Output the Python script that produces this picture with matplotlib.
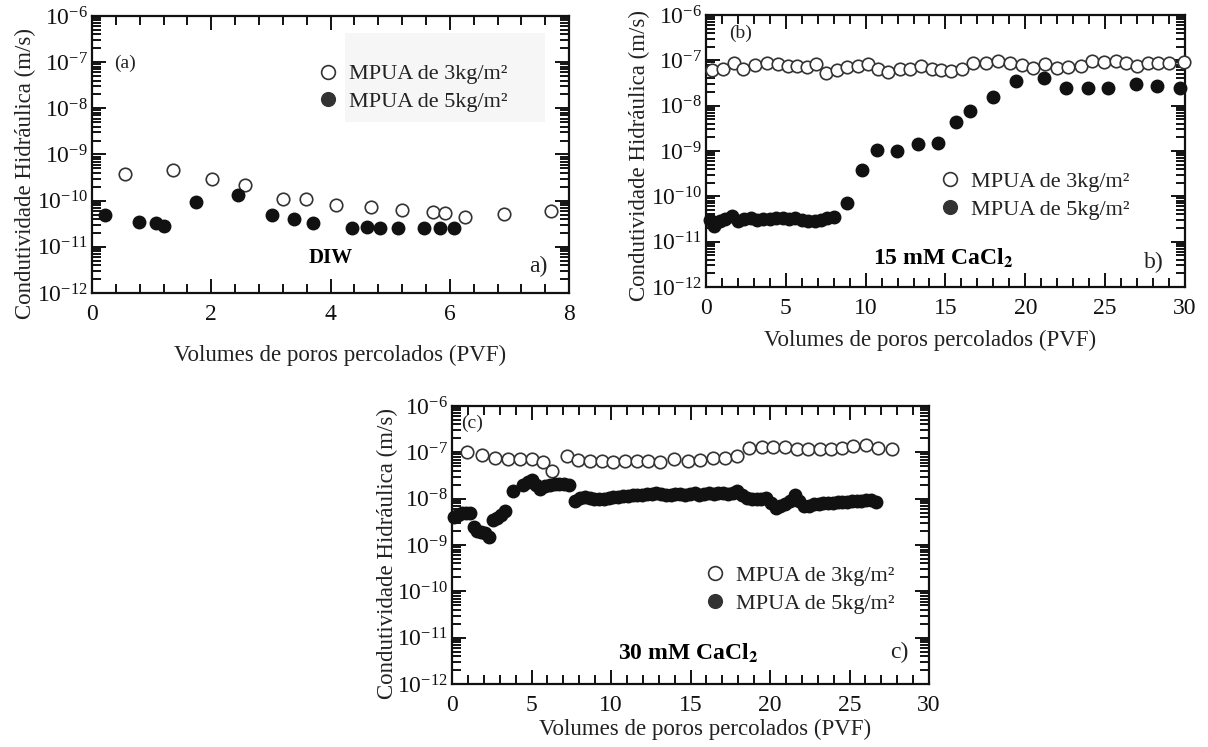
import numpy as np
import matplotlib.pyplot as plt
from matplotlib.ticker import (LogLocator, MultipleLocator, NullFormatter,
                               LogFormatterMathtext, FixedLocator)
from matplotlib.patches import Rectangle

plt.rcParams['font.family'] = ['Liberation Serif', 'DejaVu Serif']
plt.rcParams['mathtext.fontset'] = 'stix'

# ---- data (hydraulic conductivity, m/s) ----
# panel a: DIW
a_open_x = [0.55, 1.36, 2.01, 2.57, 3.21, 3.59, 4.09, 4.68, 5.20, 5.72, 5.92, 6.26, 6.91, 7.70]
a_open_y = [3.8e-10, 4.6e-10, 2.95e-10, 2.2e-10, 1.1e-10, 1.07e-10, 8.1e-11, 7.4e-11,
            6.3e-11, 5.6e-11, 5.3e-11, 4.5e-11, 5.1e-11, 6.0e-11]
a_fill_x = [0.22, 0.78, 1.08, 1.20, 1.74, 2.44, 3.02, 3.39, 3.71, 4.36, 4.61, 4.83, 5.13, 5.57, 5.84, 6.07]
a_fill_y = [4.9e-11, 3.5e-11, 3.3e-11, 2.8e-11, 9.2e-11, 1.33e-10, 4.9e-11, 4.1e-11, 3.2e-11,
            2.5e-11, 2.7e-11, 2.5e-11, 2.5e-11, 2.5e-11, 2.6e-11, 2.5e-11]

# panel b: 15 mM CaCl2
b_open_x = [0.36, 1.09, 1.75, 2.34, 3.07, 3.80, 4.53, 5.16, 5.68, 6.30, 6.89, 7.51, 8.18, 8.85,
            9.54, 10.16, 10.79, 11.42, 12.15, 12.77, 13.45, 14.15, 14.75, 15.35, 16.01, 16.74,
            17.53, 18.30, 19.04, 19.77, 20.50, 21.23, 21.96, 22.69, 23.52, 24.21, 24.92, 25.67,
            26.34, 27.01, 27.70, 28.32, 29.01, 29.95]
b_open_y_e8 = [6.1, 6.6, 8.6, 6.6, 7.9, 8.9, 8.2, 7.6, 7.5, 7.2, 8.3, 5.2, 6.1, 7.2,
               7.5, 8.2, 6.6, 5.6, 6.3, 6.6, 7.6, 6.6, 6.1, 5.8, 6.6, 8.6,
               8.9, 9.7, 8.9, 7.9, 6.9, 8.2, 6.9, 7.2, 7.5, 9.7, 9.4, 9.8,
               8.9, 7.5, 8.6, 8.9, 8.9, 9.0]
b_fill_x = [0.25, 0.5, 0.85, 1.2, 1.6, 2.0, 2.4, 2.8, 3.2, 3.6, 4.0, 4.4, 4.8, 5.2, 5.6, 6.0,
            6.4, 6.8, 7.2, 7.6, 8.0, 8.85, 9.75, 10.69, 11.98, 13.3, 14.55, 15.65, 16.53,
            17.99, 19.41, 21.16, 22.54, 23.94, 25.19, 26.93, 28.22, 29.72]
b_fill_y = [3.0e-11, 2.2e-11, 2.8e-11, 3.2e-11, 3.6e-11, 2.9e-11, 3.1e-11, 3.3e-11, 3.0e-11,
            3.1e-11, 3.2e-11, 3.3e-11, 3.3e-11, 3.2e-11, 3.3e-11, 3.0e-11, 2.9e-11, 2.9e-11,
            3.0e-11, 3.3e-11, 3.5e-11, 7.0e-11, 3.8e-10, 1.05e-9, 1.02e-9, 1.4e-9, 1.48e-9,
            4.4e-9, 7.7e-9, 1.53e-8, 3.5e-8, 4.0e-8, 2.4e-8, 2.5e-8, 2.5e-8, 3.0e-8, 2.7e-8, 2.5e-8]

# panel c: 30 mM CaCl2
c_open_x = [0.92, 1.87, 2.70, 3.54, 4.28, 5.01, 5.70, 6.27, 7.21, 7.95, 8.68, 9.41, 10.15,
            10.88, 11.62, 12.35, 13.08, 13.95, 14.86, 15.60, 16.43, 17.17, 17.94, 18.70,
            19.48, 20.21, 20.94, 21.68, 22.41, 23.14, 23.82, 24.51, 25.24, 26.04, 26.81, 27.65]
c_open_y_e8 = [10.3, 8.8, 7.4, 7.2, 7.2, 7.1, 6.3, 4.0, 8.3, 6.8, 6.5, 6.5, 6.1,
               6.6, 6.5, 6.5, 6.1, 7.3, 6.5, 6.8, 7.4, 7.4, 8.3, 12.2,
               13.2, 13.2, 12.8, 11.6, 11.6, 11.6, 11.6, 12.2, 13.7, 14.4, 12.2, 11.9]
c_fill_x = [0.1, 0.35, 0.6, 0.85, 1.1, 1.35, 1.6, 1.85, 2.1, 2.35, 2.6, 2.85, 3.1, 3.35,
            3.85, 4.45, 4.75, 5.0, 5.3, 5.55, 5.85, 6.15, 6.45, 6.75, 7.05, 7.35,
            7.75, 8.05, 8.35, 8.65, 8.95, 9.25, 9.55, 9.85, 10.15, 10.45, 10.75, 11.05,
            11.35, 11.65, 11.95, 12.25, 12.55, 12.85, 13.15, 13.45, 13.75, 14.05, 14.35,
            14.65, 14.95, 15.25, 15.55, 15.85, 16.15, 16.45, 16.75, 17.05, 17.35, 17.65,
            17.95, 18.25, 18.55, 18.85, 19.15, 19.45, 19.75, 20.05, 20.35, 20.65, 20.95,
            21.25, 21.55, 21.85, 22.15, 22.45, 22.75, 23.05, 23.35, 23.65, 23.95, 24.25,
            24.55, 24.85, 25.15, 25.45, 25.75, 26.05, 26.35, 26.65]
c_fill_y_e9 = [4.0, 4.4, 4.8, 5.0, 4.8, 2.4, 2.0, 1.9, 1.8, 1.5, 3.5, 3.9, 4.4, 5.3,
               15, 20, 23, 25, 20, 16, 19, 20, 21, 21, 21, 20,
               8.8, 10.5, 11, 10.5, 10, 9.8, 10, 10.5, 11, 11, 11.5, 11.5,
               12, 12, 12, 12.5, 12.5, 13, 12.5, 12, 12, 12.5, 12.5,
               12, 12.5, 13, 12, 12.5, 13, 12.5, 13, 13, 12.5, 13.5,
               15, 12, 10.5, 10, 10, 10, 10.5, 8, 6.2, 7, 7.5,
               9, 12, 9, 7, 7, 7.5, 7.5, 8, 8, 8, 8.5,
               8.5, 8.5, 8.8, 9, 9, 9.5, 9.5, 8.6]

lab3 = "MPUA de 3kg/m²"
lab5 = "MPUA de 5kg/m²"
ylab = "Condutividade Hidráulica (m/s)"
xlab = "Volumes de poros percolados (PVF)"

# minor log ticks 2..9 in every decade
y_minor = [m * 10.0 ** e for e in range(-12, -6) for m in range(2, 10)]

fig = plt.figure(figsize=(12.08, 7.47), dpi=100)
ax_a = fig.add_axes([0.0762, 0.6078, 0.3949, 0.3708])
ax_b = fig.add_axes([0.5844, 0.6158, 0.3965, 0.3641])
ax_c = fig.add_axes([0.3742, 0.0843, 0.3949, 0.3722])


def style(ax, xmax, xmaj, xmin):
    ax.set_yscale('log')
    ax.set_ylim(1e-12, 1e-6)
    ax.set_xlim(0, xmax)
    ax.xaxis.set_major_locator(MultipleLocator(xmaj))
    ax.xaxis.set_minor_locator(MultipleLocator(xmin))
    ax.yaxis.set_major_locator(LogLocator(base=10, numticks=10))
    ax.yaxis.set_major_formatter(LogFormatterMathtext())
    ax.yaxis.set_minor_locator(FixedLocator(y_minor))
    ax.yaxis.set_minor_formatter(NullFormatter())
    ax.tick_params(which='both', direction='in', top=True, right=True, width=1.4, colors='#111')
    ax.tick_params(which='major', length=10, labelsize=17)
    ax.tick_params(which='minor', length=6.5)
    ax.tick_params(axis='x', pad=8)
    ax.tick_params(axis='y', pad=3)
    for s in ax.spines.values():
        s.set_linewidth(1.6)
        s.set_color('#111')


def draw(ax, ox, oy, fx, fy):
    ax.plot(ox, oy, 'o', ms=9, mfc='white', mec='#333', mew=1.2, label=lab3, clip_on=False, zorder=3)
    ax.plot(fx, fy, 'o', ms=9, mfc='#111', mec='#111', mew=1.0, label=lab5, clip_on=False, zorder=3)


def labels(ax, xl, yl):
    ax.set_xlabel(xlab, fontsize=16.5, color='#222')
    ax.xaxis.set_label_coords(xl[0], xl[1])
    ax.xaxis.label.set_va('center')
    ax.set_ylabel(ylab, fontsize=16.5, color='#222')
    ax.yaxis.set_label_coords(yl[0], yl[1])
    ax.yaxis.label.set_va('center')


def legend(ax, x, y):
    leg = ax.legend(loc='center left', bbox_to_anchor=(x, y), frameon=False, fontsize=16,
                    handlelength=1.0, handletextpad=0.45, labelspacing=0.33,
                    borderpad=0, borderaxespad=0, markerscale=1.1)
    leg.legend_handles[1].set_markerfacecolor('#333')
    leg.legend_handles[1].set_markeredgecolor('#333')
    for t in leg.get_texts():
        t.set_color('#222')
    return leg


# panel a
style(ax_a, 8, 2, 0.4)
draw(ax_a, a_open_x, a_open_y, a_fill_x, a_fill_y)
labels(ax_a, (0.52, -0.224), (-0.140, 0.433))
ax_a.add_patch(Rectangle((0.530, 0.617), 0.42, 0.322, transform=ax_a.transAxes,
                         facecolor='#f6f6f6', edgecolor='none', zorder=0))
legend(ax_a, 0.472, 0.740)
ax_a.text(0.069, 0.830, "(a)", transform=ax_a.transAxes, fontsize=14, ha='center', va='center', color='#222')
ax_a.text(0.501, 0.126, "DIW", transform=ax_a.transAxes, fontsize=15, fontweight='bold', ha='center', va='center')
ax_a.text(0.935, 0.094, "a)", transform=ax_a.transAxes, fontsize=17, ha='center', va='center', color='#222')

# panel b
style(ax_b, 30, 5, 1)
draw(ax_b, b_open_x, [v * 1e-8 for v in b_open_y_e8], b_fill_x, b_fill_y)
labels(ax_b, (0.468, -0.195), (-0.138, 0.485))
legend(ax_b, 0.486, 0.336)
ax_b.text(0.073, 0.934, "(b)", transform=ax_b.transAxes, fontsize=14, ha='center', va='center', color='#222')
ax_b.text(0.495, 0.107, r"15 mM CaCl$_\mathbf{2}$", transform=ax_b.transAxes, fontsize=17, fontweight='bold', ha='center', va='center')
ax_b.text(0.935, 0.092, "b)", transform=ax_b.transAxes, fontsize=17, ha='center', va='center', color='#222')

# panel c
style(ax_c, 30, 5, 1)
draw(ax_c, c_open_x, [v * 1e-8 for v in c_open_y_e8], c_fill_x, [v * 1e-9 for v in c_fill_y_e9])
labels(ax_c, (0.53, -0.165), (-0.136, 0.471))
legend(ax_c, 0.528, 0.340)
ax_c.text(0.042, 0.939, "(c)", transform=ax_c.transAxes, fontsize=14, ha='center', va='center', color='#222')
ax_c.text(0.495, 0.112, r"30 mM CaCl$_\mathbf{2}$", transform=ax_c.transAxes, fontsize=17, fontweight='bold', ha='center', va='center')
ax_c.text(0.937, 0.112, "c)", transform=ax_c.transAxes, fontsize=17, ha='center', va='center', color='#222')

fig.savefig("out.png", dpi=100)
